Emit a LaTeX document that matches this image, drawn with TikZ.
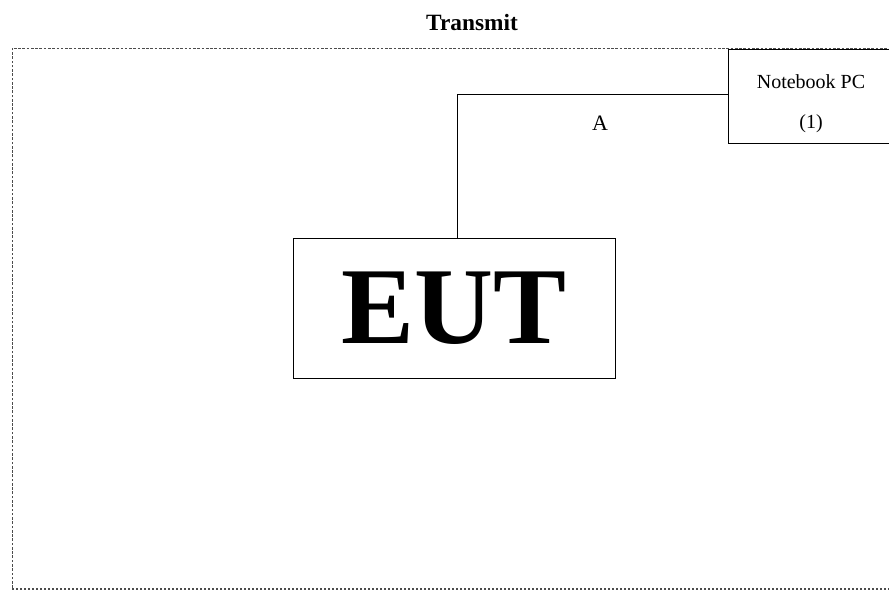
\documentclass[tikz,border=0pt]{standalone}
\usepackage{fontspec}
\setmainfont{Liberation Serif}
\usetikzlibrary{positioning}
\tikzset{
	box/.style={draw, thin, rectangle, inner sep=0pt},
	frameline/.style={thin, dash pattern=on 2pt off 1.2pt, black!70}
}

\begin{document}
\begin{tikzpicture}[x=0.75pt, y=0.75pt]
			\useasboundingbox (0,0) rectangle (889,592);
			% Title
			\node[font=\bfseries\fontsize{17.5}{19}\selectfont] (title) at (472,569) {Transmit};

			% Dotted frame round the set-up
			\draw[frameline] (12,4) -- (12,544) -- (900,544);
			\draw[frameline, line width=1.5pt, dash pattern=on 1.5pt off 1.5pt] (12,2.5) -- (900,2.5);

			% EUT and notebook
			\node[box, minimum width=241.5pt, minimum height=105pt, font=\bfseries\fontsize{82}{82}\selectfont] (eut) at (454,284) {EUT};
			\node[box, minimum width=124.5pt, minimum height=70.5pt] (nb) at (811,496) {};
			\node[align=center, font=\fontsize{15}{30}\selectfont, yshift=-5.5pt] (nbtext) at (nb.center) {Notebook PC\\(1)};

			% Cable A
			\coordinate (bend) at (457,498);
			\draw[thin] (eut.north -| bend) -- (bend) -- (bend -| nb.west);
			\node[font=\fontsize{16.5}{18}\selectfont] (A) at (600,469) {A};
		\end{tikzpicture}
\end{document}
